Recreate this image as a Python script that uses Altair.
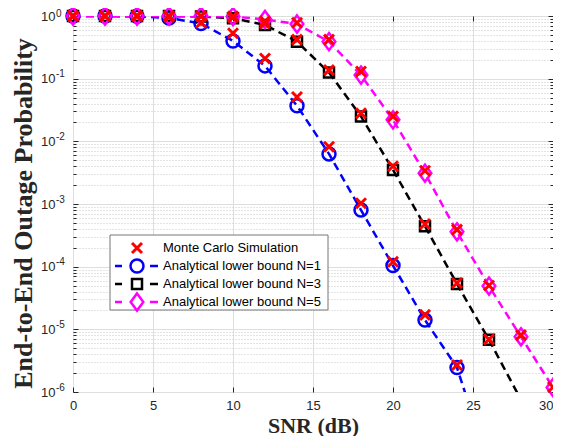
import altair as alt
import pandas as pd

# ---------------- data ----------------
snr = [0, 2, 4, 6, 8, 10, 12, 14, 16, 18, 20, 22, 24, 26, 28, 30]

an_n1 = [1.0, 1.0, 0.99, 0.93, 0.76, 0.40, 0.16, 0.037, 0.0063, 8.0e-4, 1.04e-4, 1.41e-5, 2.45e-6]
mc_n1 = [1.0, 1.0, 1.0, 0.97, 0.78, 0.53, 0.21, 0.051, 0.0082, 1.03e-3, 1.2e-4, 1.7e-5, 2.7e-6]
an_n3 = [1.0, 1.0, 1.0, 1.0, 0.98, 0.92, 0.72, 0.39, 0.125, 0.025, 0.0035, 4.4e-4, 5.3e-5, 6.8e-6]
mc_n3 = [1.0, 1.0, 1.0, 1.0, 0.99, 0.95, 0.76, 0.42, 0.137, 0.028, 0.0040, 4.8e-4, 5.5e-5, 6.9e-6]
an_n5 = [1.0, 1.0, 1.0, 1.0, 1.0, 0.98, 0.88, 0.745, 0.39, 0.114, 0.022, 0.0031, 3.6e-4, 4.9e-5, 7.6e-6, 1.18e-6]
mc_n5 = [1.0, 1.0, 1.0, 1.0, 1.0, 0.99, 0.82, 0.78, 0.42, 0.13, 0.025, 0.0034, 3.9e-4, 5.0e-5, 8.1e-6, 1.2e-6]

# continuation of analytical curves below the axis floor (clipped)
tail_snr = [26, 28, None]
tail_val = [6.4e-8, 7.5e-7, None]

series = ["Analytical lower bound N=1", "Analytical lower bound N=3", "Analytical lower bound N=5"]
mc_label = "Monte Carlo Simulation"
colors = ["#0000ff", "#000000", "#ff00ff"]
mc_color = "#ff0000"

x_ticks = [0, 5, 10, 15, 20, 25, 30]
y_major = [1e-6, 1e-5, 1e-4, 1e-3, 1e-2, 1e-1, 1.0]
y_minor = [k * 10.0 ** e for e in range(-6, 0) for k in range(2, 10)]

# ---------------- tables ----------------
an_vals = [an_n1, an_n3, an_n5]
mc_vals = [mc_n1, mc_n3, mc_n5]

line_rows, mark_rows, mc_rows = [], [], []
for name, av, mv, tx, tv in zip(series, an_vals, mc_vals, tail_snr, tail_val):
    for x, v in zip(snr, av):
        line_rows.append({"snr": x, "p": v, "series": name})
        mark_rows.append({"snr": x, "p": v, "series": name})
    if tx is not None:
        line_rows.append({"snr": tx, "p": tv, "series": name})
    for x, v in zip(snr, mv):
        mc_rows.append({"snr": x, "p": v, "series": name})

lines_df = pd.DataFrame(line_rows)
marks_df = pd.DataFrame(mark_rows)
mc_df = pd.DataFrame(mc_rows)

# ---------------- styles ----------------
INK = "#262626"
SANS = "Liberation Sans"
SERIF = "Liberation Serif"
xs = alt.Scale(domain=[0, 30], nice=False, zero=False)
ys = alt.Scale(type="log", domain=[1e-6, 1], nice=False)

diamond = "M0,-1.35L1,0L0,1.35L-1,0Z"
xmark = "M-1,-1L1,1M-1,1L1,-1"

x_main = alt.Axis(values=x_ticks, orient="bottom", title="SNR (dB)", grid=True,
                  gridColor="#dedede", gridWidth=1, ticks=False, domain=False,
                  labelFont=SANS, labelFontSize=13, labelColor=INK, labelPadding=7,
                  labelFlush=False, labelOverlap=False, format="d",
                  labelAlign={"condition": {"test": "datum.value >= 30", "value": "right"},
                              "value": "center"},
                  titleFont=SERIF, titleFontSize=22, titleFontWeight="bold",
                  titleColor=INK, titleBaseline="alphabetic", titleY=40)
# mantissa "10" of the y labels
y_main = alt.Axis(values=y_major, orient="left", title="End-to-End Outage Probability",
                  grid=True, gridColor="#dedede", gridWidth=1, ticks=False, domain=False,
                  labelFont=SANS, labelFontSize=13, labelColor=INK, labelPadding=18,
                  labelOverlap=False, labelExpr="'10'",
                  titleFont=SERIF, titleFontSize=26, titleFontWeight="bold",
                  titleColor=INK, titlePadding=4, titleY=197)
# exponent of the y labels (superscript)
y_exp = alt.Axis(values=y_major, orient="left", title="", grid=False, ticks=False, domain=False,
                 labelFont=SANS, labelFontSize=10, labelColor=INK, labelPadding=17.5,
                 labelAlign="left", labelOverlap=False,
                 labelOffset={"condition": {"test": "datum.value >= 1", "value": -2.5},
                              "value": -5},
                 labelExpr="'' + round(log(datum.value)/LN10)")


def tick_axis(vals, orient, size, grid=False):
    kw = dict(values=vals, orient=orient, offset=-size, tickSize=size, ticks=True,
              labels=False, domain=False, grid=grid, title="", tickColor=INK, tickWidth=1)
    if grid:
        kw.update(gridColor="#c8c8c8", gridDash=[1, 2], gridWidth=1)
    return alt.Axis(**kw)


color_enc = alt.Color("series:N", scale=alt.Scale(domain=series, range=colors), legend=None)

exp_host = alt.Chart(marks_df).mark_point(opacity=0).encode(
    x=alt.X("snr:Q", scale=xs, axis=None),
    y=alt.Y("p:Q", scale=ys, axis=y_exp),
)

lines = alt.Chart(lines_df).mark_line(strokeDash=[8, 5], strokeWidth=2.5, clip=True).encode(
    x=alt.X("snr:Q", scale=xs, axis=x_main),
    y=alt.Y("p:Q", scale=ys, axis=y_main),
    color=color_enc,
    order=alt.Order("snr:Q"),
)

circles = alt.Chart(marks_df[marks_df.series == series[0]]).mark_point(
    shape="circle", size=169, strokeWidth=2.5, filled=False, color=colors[0], opacity=1
).encode(
    x=alt.X("snr:Q", scale=xs, axis=tick_axis(x_ticks, "bottom", 5)),
    y=alt.Y("p:Q", scale=ys, axis=tick_axis(y_major, "left", 5)),
)
squares = alt.Chart(marks_df[marks_df.series == series[1]]).mark_point(
    shape="square", size=100, strokeWidth=2.5, filled=False, color=colors[1], opacity=1
).encode(
    x=alt.X("snr:Q", scale=xs, axis=tick_axis(x_ticks, "top", 5)),
    y=alt.Y("p:Q", scale=ys, axis=tick_axis(y_major, "right", 5)),
)
diamonds = alt.Chart(marks_df[marks_df.series == series[2]]).mark_point(
    shape=diamond, size=160, strokeWidth=2.5, filled=False, color=colors[2], opacity=1
).encode(
    x=alt.X("snr:Q", scale=xs, axis=None),
    y=alt.Y("p:Q", scale=ys, axis=tick_axis(y_minor, "left", 3, grid=True)),
)
mcs = alt.Chart(mc_df).mark_point(
    shape=xmark, size=100, strokeWidth=3, filled=False, color=mc_color, opacity=1
).encode(
    x=alt.X("snr:Q", scale=xs, axis=None),
    y=alt.Y("p:Q", scale=ys, axis=tick_axis(y_minor, "right", 3)),
)

# ---------------- legend (drawn inside the plot, lower left) ----------------
one = pd.DataFrame({"k": [0]})
leg_box = alt.Chart(one).mark_rect(fill="white", stroke="#777777", strokeWidth=1).encode(
    x=alt.value(37), x2=alt.value(255), y=alt.value(219), y2=alt.value(294)
)
legend_layers = [leg_box]
row_y = [232, 250, 268, 286]
labels = [mc_label] + series
sym_shapes = [xmark, "circle", "square", diamond]
sym_sizes = [100, 169, 100, 160]
sym_widths = [3, 2.5, 2.5, 2.5]
sym_colors = [mc_color] + colors
for i, (lab, yy) in enumerate(zip(labels, row_y)):
    if i > 0:
        for xa, xb in [(42, 49), (77, 85)]:
            legend_layers.append(
                alt.Chart(one).mark_rule(strokeWidth=2.5, color=sym_colors[i]).encode(
                    x=alt.value(xa), x2=alt.value(xb), y=alt.value(yy)
                )
            )
    legend_layers.append(
        alt.Chart(one).mark_point(shape=sym_shapes[i], size=sym_sizes[i], strokeWidth=sym_widths[i],
                                  filled=False, color=sym_colors[i], opacity=1).encode(
            x=alt.value(64), y=alt.value(yy)
        )
    )
    legend_layers.append(
        alt.Chart(one).mark_text(text=lab, align="left", baseline="middle", font=SANS,
                                 fontSize=13, color="#000000").encode(
            x=alt.value(90), y=alt.value(yy)
        )
    )

chart = alt.layer(exp_host, lines, circles, squares, diamonds, mcs, *legend_layers).resolve_axis(
    x="independent", y="independent"
).properties(
    width=480, height=376,
    padding={"left": 65, "top": 8, "right": 0, "bottom": 44},
    autosize=alt.AutoSizeParams(type="none"),
    background="white",
).configure_view(stroke=INK, strokeWidth=1)

chart.save("out.html", embed_options={"renderer": "svg", "actions": False})
